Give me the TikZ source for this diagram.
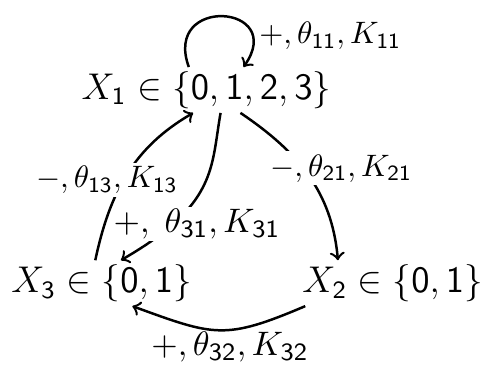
\documentclass[tikz,border=0pt]{standalone}
\DeclareSymbolFont{sfdigits}{OT1}{cmss}{m}{n}
\DeclareMathSymbol{0}{\mathalpha}{sfdigits}{`0}
\DeclareMathSymbol{1}{\mathalpha}{sfdigits}{`1}
\DeclareMathSymbol{2}{\mathalpha}{sfdigits}{`2}
\DeclareMathSymbol{3}{\mathalpha}{sfdigits}{`3}

\begin{document}
\begin{tikzpicture}[thick, var/.style={inner sep=1pt, font=\large},
    lbl/.style={fill=white, inner sep=1pt}, biglbl/.style={font=\fontsize{11}{13}\selectfont}]
    \useasboundingbox (0,0) rectangle (5.52,4.14);
    % Variables
    \node[var] (X1) at (2.34,3.12) {$X_1 \in \{0,1,2,3\}$};
    \node[var] (X2) at (4.45,0.93) {$X_2 \in \{0,1\}$};
    \node[var] (X3) at (1.15,0.93) {$X_3 \in \{0,1\}$};
    % Self loop on X1
    \draw[->] ([xshift=-0.2cm]X1.north) to[out=110, in=55, looseness=3.6]
        node[pos=0.8, right, xshift=-0.05cm] {$+,\theta_{11},K_{11}$} ([xshift=0.42cm]X1.north);
    % Interactions
    \draw[->] (X1) to[out=-34, in=95] node[lbl, pos=0.45, xshift=0.43cm] {$-,\theta_{21},K_{21}$} ([xshift=-0.62cm]X2.north);
    \draw[->] ([xshift=-0.07cm]X3.north) to[out=78, in=-150] node[lbl, pos=0.46, xshift=-0.19cm] {$-,\theta_{13},K_{13}$} ([xshift=-0.15cm]X1.south);
    \draw[->] ([xshift=0.16cm]X1.south) to[out=-100, in=30, out looseness=0.8, in looseness=1.6] node[lbl, biglbl, inner sep=0.5pt, pos=0.75, xshift=0.24cm, yshift=-0.03cm] {$+,\;\theta_{31},K_{31}$} ([xshift=0.22cm]X3.north);
    \draw[->] ([xshift=-0.99cm]X2.south) to[out=203, in=-20, looseness=1.3] node[below, biglbl, inner sep=0pt, xshift=0.12cm] {$+,\theta_{32},K_{32}$} ([xshift=0.35cm]X3.south);
\end{tikzpicture}
\end{document}
